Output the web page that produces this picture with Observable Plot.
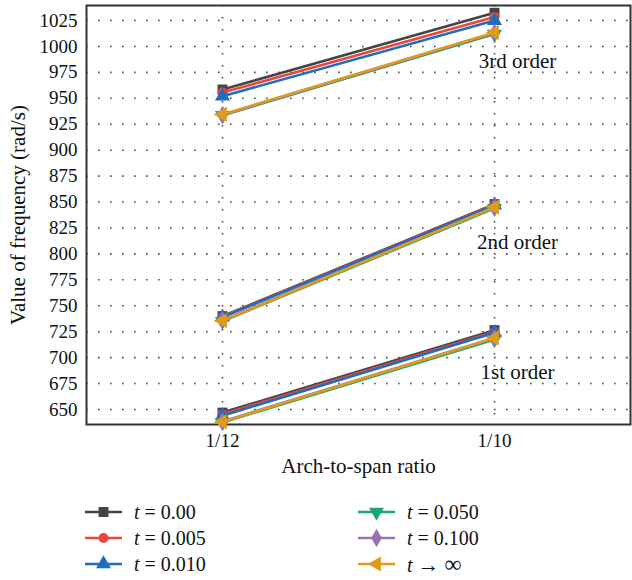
<!DOCTYPE html>
<html>
<head>
<meta charset="utf-8">
<script src="https://cdn.jsdelivr.net/npm/d3@7"></script>
<script src="https://cdn.jsdelivr.net/npm/@observablehq/plot@0.6"></script>
<style>
  body { margin: 0; background: #fff; }
  #wrap { position: relative; width: 632px; height: 580px; font-family: "Liberation Serif", "DejaVu Serif", serif; }
  #chart svg, #chart svg text { font-family: "Liberation Serif", "DejaVu Serif", serif !important; }
  #legend { position: absolute; left: 0; top: 0; width: 632px; height: 580px; pointer-events: none; }
  .item { position: absolute; display: flex; align-items: center; font-size: 20px; color: #111; white-space: pre; }
  .item svg { margin-right: 12px; }
  .item i { font-style: italic; }
</style>
</head>
<body>
<div id="wrap"><div id="chart"></div><div id="legend"></div></div>
<script>
// Arch-to-span ratios on the x axis
const ratios = ["1/12", "1/10"];
// Modes of vibration
const orders = ["1st", "2nd", "3rd"];
const orderLabels = ["1st order", "2nd order", "3rd order"];
const orderLabelY = [686, 811, 986];

// Series (time parameter) and their styling
const seriesNames = ["0.00", "0.005", "0.010", "0.050", "0.100", "∞"];
const colors = ["#444444", "#ea463d", "#1f6dbf", "#18a67a", "#9a72b2", "#e09a1c"];
const symbols = ["square", "circle", "triangle", "triangle", "diamond", "triangle"];
const rotations = [0, 0, 0, 180, 0, -90];

// Frequency (rad/s) per series: [1st@1/12, 1st@1/10, 2nd@1/12, 2nd@1/10, 3rd@1/12, 3rd@1/10]
const freqT000 = [647, 726.5, 740, 848, 958.5, 1032.5];
const freqT005 = [645.5, 725, 739.5, 847.5, 955.5, 1028.5];
const freqT010 = [644, 724, 739, 847, 952, 1025];
const freqT050 = [637.5, 717.5, 735, 844, 933.5, 1012];
const freqT100 = [638.5, 719, 736, 845, 934, 1013];
const freqTinf = [638, 719, 735.5, 845, 934.5, 1013.5];
const freqs = [freqT000, freqT005, freqT010, freqT050, freqT100, freqTinf];

const yTicks = [650, 675, 700, 725, 750, 775, 800, 825, 850, 875, 900, 925, 950, 975, 1000, 1025];
const xTitle = "Arch-to-span ratio";
const yTitle = "Value of frequency (rad/s)";

const seriesData = freqs.map((vals, s) =>
  vals.map((v, i) => ({
    series: seriesNames[s],
    order: orders[Math.floor(i / 2)],
    ratio: ratios[i % 2],
    value: v
  }))
);

const font = "Liberation Serif";
const dotted = {stroke: "#333", strokeOpacity: 0.9, strokeWidth: 1.6, strokeDasharray: "1.6,10.4"};
const marks = [
  Plot.gridY(yTicks, dotted),
  Plot.gridX(ratios, dotted),
  Plot.frame({stroke: "#333", strokeWidth: 2}),
  Plot.axisY(yTicks, {tickSize: 0, tickPadding: 9, tickFormat: d3.format("d"), label: null, fontSize: 19, fontFamily: font, fill: "#111"}),
  Plot.axisX(ratios, {tickSize: 0, tickPadding: 9, label: null, fontSize: 19, fontFamily: font, fill: "#111"}),
  Plot.text([xTitle], {frameAnchor: "bottom", dy: 48, fontSize: 21, fontFamily: font, fill: "#111"}),
  Plot.text([yTitle], {frameAnchor: "left", textAnchor: "middle", dx: -68, rotate: -90, fontSize: 21, fontFamily: font, fill: "#111"})
];
seriesData.forEach((rows, s) => {
  marks.push(Plot.line(rows, {x: "ratio", y: "value", z: "order", stroke: colors[s], strokeWidth: 2.6}));
  marks.push(Plot.dot(rows, {x: "ratio", y: "value", symbol: () => symbols[s], fill: colors[s], stroke: "none",
    r: symbols[s] === "circle" ? 5 : 5.6, rotate: rotations[s]}));
});
marks.push(Plot.text(orderLabels.map((t, i) => ({t, y: orderLabelY[i]})), {
  x: () => "1/10", y: "y", text: "t", dx: 23, fontSize: 21, fontFamily: font, fill: "#111"
}));

const plot = Plot.plot({
  width: 632,
  height: 485,
  marginLeft: 86,
  marginRight: 2,
  marginTop: 5,
  marginBottom: 61,
  style: {fontFamily: font, fontSize: "17px", color: "#111", background: "#fff"},
  x: {type: "point", domain: ratios, padding: 0.5, axis: null},
  y: {domain: [635.5, 1039.5], axis: null},
  symbol: {type: "identity"},
  marks
});
document.getElementById("chart").appendChild(plot);

// Legend below the plot: two columns of three entries
const legend = document.getElementById("legend");
const legendPos = [[85, 512], [85, 538], [85, 564], [358, 512], [358, 538], [358, 564]];
seriesNames.forEach((name, s) => {
  const item = document.createElement("div");
  item.className = "item";
  item.style.left = legendPos[s][0] + "px";
  item.style.top = (legendPos[s][1] - 12) + "px";
  item.style.height = "24px";
  const sw = d3.create("svg").attr("width", 37).attr("height", 24);
  sw.append("line").attr("x1", 0).attr("x2", 37).attr("y1", 12).attr("y2", 12)
    .attr("stroke", colors[s]).attr("stroke-width", 2.6);
  const symMap = {square: d3.symbolSquare, circle: d3.symbolCircle, triangle: d3.symbolTriangle, diamond: d3.symbolDiamond};
  const r = symbols[s] === "circle" ? 5 : 5.6;
  sw.append("path").attr("d", d3.symbol(symMap[symbols[s]], Math.PI * r * r)())
    .attr("transform", `translate(18.5,12) rotate(${rotations[s]})`).attr("fill", colors[s]);
  item.appendChild(sw.node());
  const label = document.createElement("span");
  label.innerHTML = name === "∞"
    ? `<i>t</i> <span style="font-size:22px">→</span> <span style="font-size:24px">∞</span>`
    : `<i>t</i> = ${name}`;
  item.appendChild(label);
  legend.appendChild(item);
});
</script>
</body>
</html>
